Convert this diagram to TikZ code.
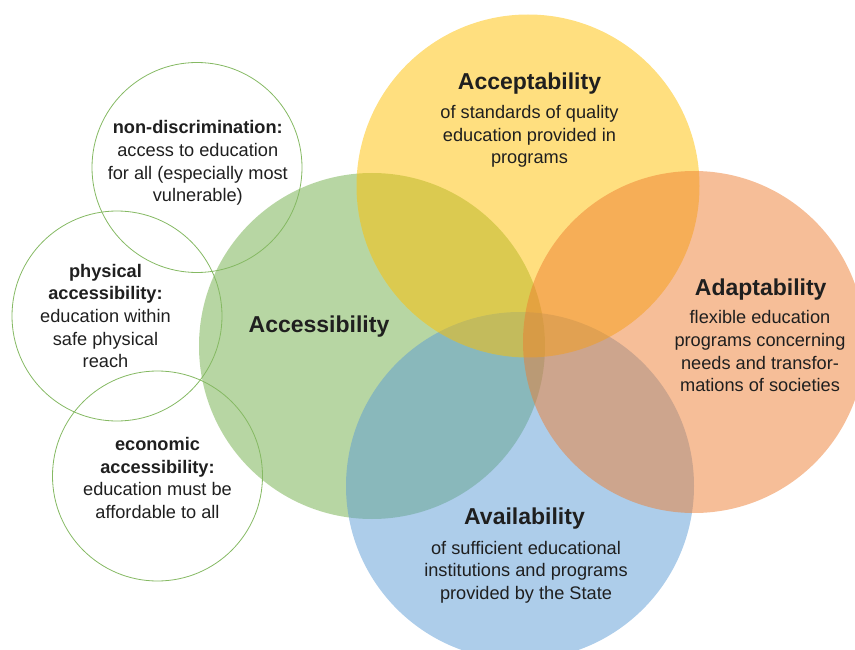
\documentclass[tikz,border=0pt]{standalone}
\usepackage{fontspec}
\setmainfont{Liberation Sans}
\definecolor{cgreen}{HTML}{70AD47}
\definecolor{cblue}{HTML}{5B9BD5}
\definecolor{cyellow}{HTML}{FFC000}
\definecolor{corange}{HTML}{ED7D31}
\definecolor{ink}{HTML}{1F1F1F}
\begin{document}
% multi-line nodes are placed by the baseline of their last line
\begin{tikzpicture}[x=1pt,y=-1pt,
  bigdisc/.style={fill=#1,fill opacity=0.5,draw=none},
  ring/.style={draw=cgreen!85,line width=0.8pt,fill=none},
  head/.style={font=\fontsize{23}{27}\selectfont\bfseries,text=ink,inner sep=0pt,anchor=base},
  body/.style={font=\fontsize{18.2}{22.6}\selectfont,text=ink,inner sep=0pt,anchor=base,align=center},
]
\useasboundingbox (0,0) rectangle (855,650);
\begin{scope}
\clip (0,0) rectangle (855,650);
% the four overlapping dimensions
\fill[bigdisc=cgreen]  (372,346) circle (173);
\fill[bigdisc=cblue]   (520,486) circle (174);
\fill[bigdisc=cyellow] (528,186) circle (171.5);
\fill[bigdisc=corange] (694,342) circle (171);
\end{scope}
% the three aspects of accessibility
\draw[ring] (197,167.5) circle (105);
\draw[ring] (117,316) circle (105);
\draw[ring] (157.5,476) circle (105);

\node[head] (acc) at (319,332) {Accessibility};

\node[head] (acp) at (529.5,89.3) {Acceptability};
\node[body] (acpt) at (529.5,164) {of standards of quality\\education provided in\\programs};

\node[head] (adp) at (760.7,295) {Adaptability};
\node[body] (adpt) at (760,391.7) {flexible education\\programs concerning\\needs and transfor-\\mations of societies};

\node[head] (avl) at (524.5,524) {Availability};
\node[body] (avlt) at (526,599.3) {of sufficient educational\\institutions and programs\\provided by the State};

\node[body] (nd) at (197.8,201.7) {\textbf{non-discrimination:}\\access to education\\for all (especially most\\vulnerable)};
\node[body] (pa) at (105.5,367.7) {\textbf{physical}\\\textbf{accessibility:}\\education within\\safe physical\\reach};
\node[body] (ea) at (157.5,518.3) {\textbf{economic}\\\textbf{accessibility:}\\education must be\\affordable to all};
\end{tikzpicture}
\end{document}
